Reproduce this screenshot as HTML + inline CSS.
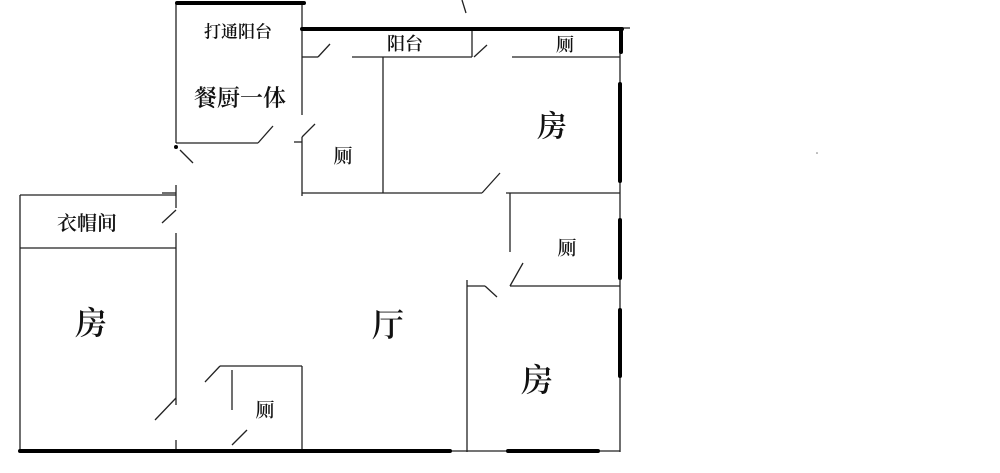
<!DOCTYPE html>
<html><head><meta charset="utf-8"><style>
html,body{margin:0;padding:0;background:#fff;}
svg{display:block}
text{font-family:"Liberation Serif","Noto Serif CJK SC",serif;font-weight:600;fill:#111;text-anchor:middle;dominant-baseline:central}
</style></head><body>
<svg width="1000" height="473" viewBox="0 0 1000 473">
<g stroke="#222" stroke-width="1.3" fill="none">
<line x1="176" y1="3" x2="176" y2="143"/>
<line x1="176" y1="143" x2="258" y2="143"/>
<line x1="258" y1="143" x2="273" y2="126"/>
<line x1="302" y1="3" x2="302" y2="115"/>
<line x1="180" y1="150" x2="193" y2="163"/>
<line x1="472" y1="29" x2="472" y2="57"/>
<line x1="302" y1="57" x2="318" y2="57"/>
<line x1="318" y1="57" x2="330" y2="44"/>
<line x1="352" y1="57" x2="472" y2="57"/>
<line x1="474" y1="57" x2="487" y2="45"/>
<line x1="512" y1="57" x2="620" y2="57"/>
<line x1="620" y1="28" x2="630" y2="28"/>
<line x1="383" y1="57" x2="383" y2="193"/>
<line x1="302" y1="137" x2="302" y2="196"/>
<line x1="302" y1="137" x2="315" y2="124"/>
<line x1="294" y1="142" x2="302" y2="142"/>
<line x1="302" y1="193" x2="482" y2="193"/>
<line x1="482" y1="193" x2="500" y2="173"/>
<line x1="506" y1="193" x2="620" y2="193"/>
<line x1="620" y1="29" x2="620" y2="452"/>
<line x1="510" y1="193" x2="510" y2="252"/>
<line x1="510" y1="286" x2="620" y2="286"/>
<line x1="510" y1="286" x2="523" y2="263"/>
<line x1="467" y1="280" x2="467" y2="452"/>
<line x1="467" y1="286" x2="485" y2="286"/>
<line x1="485" y1="286" x2="497" y2="297"/>
<line x1="20" y1="195" x2="20" y2="452"/>
<line x1="20" y1="195" x2="176" y2="195"/>
<line x1="20" y1="248" x2="176" y2="248"/>
<line x1="176" y1="185" x2="176" y2="208"/>
<line x1="176" y1="210" x2="162" y2="223"/>
<line x1="176" y1="233" x2="176" y2="405"/>
<line x1="176" y1="398" x2="155" y2="420"/>
<line x1="176" y1="440" x2="176" y2="450"/>
<line x1="162" y1="193" x2="176" y2="193"/>
<line x1="220" y1="366" x2="302" y2="366"/>
<line x1="220" y1="366" x2="205" y2="382"/>
<line x1="232" y1="370" x2="232" y2="410"/>
<line x1="302" y1="366" x2="302" y2="450"/>
<line x1="232" y1="445" x2="247" y2="430"/>
<line x1="450" y1="451" x2="620" y2="451"/>
<line x1="462" y1="0" x2="466" y2="13"/>
</g>
<g stroke="#000" stroke-width="4" stroke-linecap="round">
<line x1="177" y1="3" x2="304" y2="3"/>
<line x1="302" y1="29" x2="622" y2="29"/>
<line x1="621" y1="29" x2="621" y2="52"/>
<line x1="620" y1="84" x2="620" y2="181"/>
<line x1="620" y1="220" x2="620" y2="278"/>
<line x1="620" y1="310" x2="620" y2="376"/>
<line x1="20" y1="451" x2="450" y2="451"/>
<line x1="508" y1="451" x2="598" y2="451"/>
</g>
<circle cx="176" cy="147" r="2" fill="#000"/>
<circle cx="817" cy="153" r="0.8" fill="#777"/>
<text x="238" y="32" font-size="17">打通阳台</text>
<text x="240" y="98" font-size="23">餐厨一体</text>
<text x="405" y="44" font-size="18">阳台</text>
<text x="565" y="45" font-size="18">厕</text>
<text x="552" y="127" font-size="30">房</text>
<text x="343" y="157" font-size="19">厕</text>
<text x="87" y="224" font-size="20">衣帽间</text>
<text x="567" y="249" font-size="19">厕</text>
<text x="91" y="323" font-size="32">房</text>
<text x="388" y="325" font-size="32">厅</text>
<text x="537" y="380" font-size="32">房</text>
<text x="265" y="411" font-size="19">厕</text>
</svg>
</body></html>
